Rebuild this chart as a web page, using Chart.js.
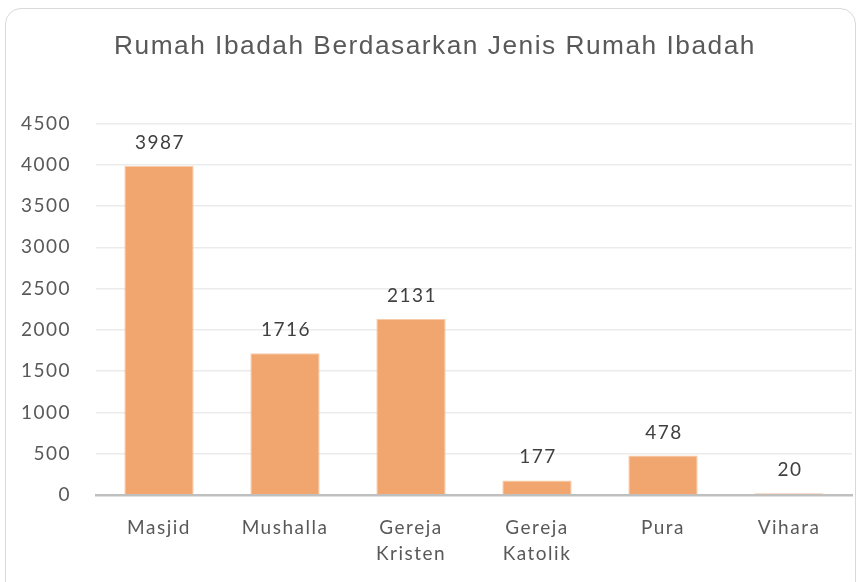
<!DOCTYPE html>
<html><head><meta charset="utf-8">
<script src="https://cdn.jsdelivr.net/npm/chart.js@4/dist/chart.umd.min.js"></script>
<style>
html,body{margin:0;padding:0;background:#fff;}
#wrap{position:absolute;left:0;top:0;width:861px;height:582px;}
#frame{position:absolute;left:5px;top:8px;width:851px;height:590px;border:1.5px solid #d9d9d9;border-radius:16px;box-sizing:border-box;}
canvas{position:absolute;left:0;top:0;}
</style></head>
<body>
<div id="wrap"><div id="frame"></div><canvas id="c" width="861" height="582"></canvas></div>
<script>
const categories = [["Masjid"], ["Mushalla"], ["Gereja", "Kristen"], ["Gereja", "Katolik"], ["Pura"], ["Vihara"]];
const values = [3987, 1716, 2131, 177, 478, 20];
const yTicks = [0, 500, 1000, 1500, 2000, 2500, 3000, 3500, 4000, 4500];
const titleText = "Rumah Ibadah Berdasarkan Jenis Rumah Ibadah";

const labelPlugin = {
  id: 'valueLabels',
  afterDatasetsDraw(chart) {
    const ctx = chart.ctx;
    const meta = chart.getDatasetMeta(0);
    ctx.save();
    ctx.font = '19px Lato';
    ctx.letterSpacing = '1.5px';
    ctx.fillStyle = '#404040';
    ctx.textAlign = 'center';
    ctx.textBaseline = 'alphabetic';
    meta.data.forEach((bar, i) => {
      ctx.fillText(String(values[i]), bar.x + 1, bar.y - 17);
    });
    ctx.restore();
  }
};
const spacingPlugin = {
  id: 'spacing',
  beforeDraw(chart){ chart.ctx.letterSpacing = '1.5px'; },
  afterDraw(chart){ chart.ctx.letterSpacing = '0px'; }
};

new Chart(document.getElementById('c'), {
  type: 'bar',
  data: {
    labels: categories,
    datasets: [{
      data: values,
      backgroundColor: '#F0A66E',
      borderColor: '#F7CBAA',
      borderWidth: {left:1,right:1,top:1,bottom:0},
      categoryPercentage: 0.55,
      barPercentage: 1.0
    }]
  },
  options: {
    responsive: false,
    animation: false,
    events: [],
    layout: { padding: { left: 18, right: 9, top: 0, bottom: 0 } },
    plugins: {
      legend: { display: false },
      tooltip: { enabled: false },
      title: {
        display: true,
        text: titleText,
        color: '#595959',
        font: { family: 'Liberation Sans', size: 26.3, weight: 'normal' },
        padding: { top: 31, bottom: 61 }
      }
    },
    scales: {
      y: {
        min: 0, max: 4500,
        afterBuildTicks(axis){ axis.ticks = yTicks.map(v => ({value: v})); },
        afterFit(axis){ axis.width = 78; },
        grid: { color: '#ebebeb', lineWidth: 1.5, drawTicks: false },
        border: { display: false },
        ticks: { color: '#595959', font: { family: 'Lato', size: 19 }, padding: 25, callback: v => String(v) }
      },
      x: {
        afterFit(axis){ axis.height = 87; },
        grid: { display: false, drawTicks: false },
        border: { display: true, color: '#bfbfbf', width: 2.5 },
        ticks: { color: '#595959', font: { family: 'Lato', size: 19, lineHeight: 1.37 }, padding: 20, maxRotation: 0, autoSkip: false }
      }
    }
  },
  plugins: [labelPlugin, spacingPlugin]
});
</script>
</body></html>
